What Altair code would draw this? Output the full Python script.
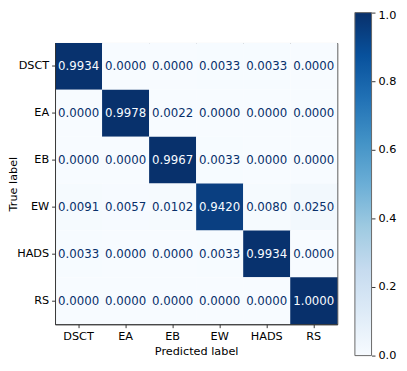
import altair as alt
import pandas as pd

labels = ["DSCT", "EA", "EB", "EW", "HADS", "RS"]
row_dsct = [0.9934, 0.0000, 0.0000, 0.0033, 0.0033, 0.0000]
row_ea = [0.0000, 0.9978, 0.0022, 0.0000, 0.0000, 0.0000]
row_eb = [0.0000, 0.0000, 0.9967, 0.0033, 0.0000, 0.0000]
row_ew = [0.0091, 0.0057, 0.0102, 0.9420, 0.0080, 0.0250]
row_hads = [0.0033, 0.0000, 0.0000, 0.0033, 0.9934, 0.0000]
row_rs = [0.0000, 0.0000, 0.0000, 0.0000, 0.0000, 1.0000]
rows = [row_dsct, row_ea, row_eb, row_ew, row_hads, row_rs]
cbar_ticks = [0.0, 0.2, 0.4, 0.6, 0.8, 1.0]
cbar_lo = [0.0]
cbar_hi = [1.0]

blues = ["#f7fbff", "#deebf7", "#c6dbef", "#9ecae1", "#6baed6",
         "#4292c6", "#2171b5", "#08519c", "#08306b"]

recs = []
for t, row in zip(labels, rows):
    for p, v in zip(labels, row):
        recs.append({"true": t, "pred": p, "value": v, "txt": f"{v:.4f}"})
df = pd.DataFrame(recs)
cbar_df = pd.DataFrame({"lo": cbar_lo, "hi": cbar_hi})

FONT = "DejaVu Sans"

base = alt.Chart(df).encode(
    x=alt.X("pred:N", sort=labels, title="Predicted label",
            axis=alt.Axis(labelAngle=0, titlePadding=4)),
    y=alt.Y("true:N", sort=labels, title="True label",
            axis=alt.Axis(titleX=-37)),
)

rect = base.mark_rect().encode(
    color=alt.Color("value:Q", scale=alt.Scale(domain=[0, 1], range=blues), legend=None)
)

text = base.mark_text(font=FONT, fontSize=12).encode(
    text="txt:N",
    color=alt.condition("datum.value > 0.5", alt.value("#f7fbff"), alt.value("#08306b")),
)

matrix = alt.layer(rect, text)

grad = alt.LinearGradient(
    gradient="linear", x1=0, x2=0, y1=1, y2=0,
    stops=[alt.GradientStop(color=c, offset=i / (len(blues) - 1)) for i, c in enumerate(blues)],
)

cbar = alt.Chart(cbar_df).mark_rect(fill=grad, stroke="#666666", strokeWidth=1).encode(
    x=alt.value(306), x2=alt.value(323),
    y=alt.Y("lo:Q", title=None,
            scale=alt.Scale(domain=[0, 1], range=[319, -31], nice=False, zero=False),
            axis=alt.Axis(orient="right", offset=35, values=cbar_ticks, format=".1f",
                          domain=False, labelFlush=False,
                          labelOffset={"condition": {"test": "datum.value === 1", "value": 3}, "value": 0})),
    y2="hi:Q",
)

chart = alt.layer(matrix, cbar).resolve_scale(y="independent").properties(
    width=288, height=287,
    autosize=alt.AutoSizeParams(type="none"),
    padding={"left": 48, "top": 32, "right": 63, "bottom": 44},
).configure_view(
    stroke="#333333", strokeWidth=1
).configure_axis(
    labelFont=FONT, labelFontSize=11.5, labelColor="black",
    titleFont=FONT, titleFontSize=11.5, titleFontWeight="normal", titleColor="black",
    tickColor="#333333", tickSize=3.5, labelPadding=3, domainColor="#333333",
    grid=False,
)

chart.save("out.html", embed_options={"renderer": "svg", "actions": False})
